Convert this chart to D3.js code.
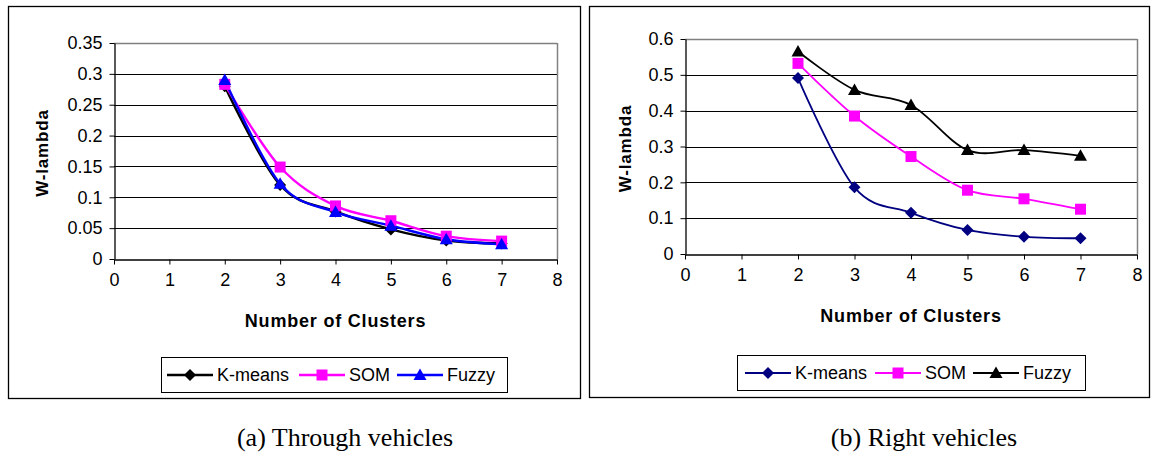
<!DOCTYPE html>
<html>
<head>
<meta charset="utf-8">
<script src="https://cdn.jsdelivr.net/npm/d3@7"></script>
<style>
  body { margin: 0; background: #fff; }
  text { font-family: "Liberation Sans", Arial, sans-serif; }
</style>
</head>
<body>
<div id="chart"></div>
<script>
// chart data
const clusters = [2, 3, 4, 5, 6, 7];
const xTicks = [0, 1, 2, 3, 4, 5, 6, 7, 8];
const seriesNames = ['K-means', 'SOM', 'Fuzzy'];

const throughKmeans = [0.280, 0.120, 0.077, 0.048, 0.030, 0.025];
const throughSom = [0.283, 0.149, 0.086, 0.062, 0.037, 0.029];
const throughFuzzy = [0.290, 0.122, 0.076, 0.054, 0.032, 0.024];
const throughTicks = [0, 0.05, 0.1, 0.15, 0.2, 0.25, 0.3, 0.35];

const rightKmeans = [0.491, 0.186, 0.115, 0.067, 0.048, 0.044];
const rightSom = [0.532, 0.385, 0.272, 0.178, 0.154, 0.125];
const rightFuzzy = [0.565, 0.458, 0.416, 0.290, 0.290, 0.274];
const rightTicks = [0, 0.1, 0.2, 0.3, 0.4, 0.5, 0.6];

const W = 1152, H = 456;
const svg = d3.select('#chart').append('svg')
  .attr('width', W)
  .attr('height', H);

const panels = [
  {
    caption: '(a) Through vehicles', captionX: 345,
    box: [8.5, 6.5, 572, 392],
    plot: {left: 114, right: 557, top: 43, bottom: 259},
    yMax: 0.35, yTicks: throughTicks,
    yTitleX: 42, xTitleY: 327,
    legend: {x: 161, y: 357, w: 346, h: 35, offsets: [6, 138, 236]},
    lineWidth: 2.4,
    series: [
      {values: throughKmeans, color: '#000000', marker: 'diamond'},
      {values: throughSom, color: '#ff00ff', marker: 'square'},
      {values: throughFuzzy, color: '#0000ff', marker: 'triangle'}
    ]
  },
  {
    caption: '(b) Right vehicles', captionX: 924,
    box: [589.5, 6.5, 560, 391],
    plot: {left: 685, right: 1137, top: 39, bottom: 254},
    yMax: 0.6, yTicks: rightTicks,
    yTitleX: 625, xTitleY: 322,
    legend: {x: 737, y: 355, w: 348, h: 35, offsets: [8, 138, 236]},
    lineWidth: 1.8,
    series: [
      {values: rightKmeans, color: '#000080', marker: 'diamond'},
      {values: rightSom, color: '#ff00ff', marker: 'square'},
      {values: rightFuzzy, color: '#000000', marker: 'triangle'}
    ]
  }
];

const markerPath = {
  diamond: 'M0,-6L6,0L0,6L-6,0Z',
  square: 'M-5.5,-5.5H5.5V5.5H-5.5Z',
  triangle: 'M0,-6.5L6.5,5H-6.5Z'
};

const fmt = d => String(+d.toFixed(2));

panels.forEach(p => {
  const g = svg.append('g');

  g.append('rect')
    .attr('x', p.box[0]).attr('y', p.box[1])
    .attr('width', p.box[2]).attr('height', p.box[3])
    .attr('fill', '#fff')
    .attr('stroke', '#000')
    .attr('stroke-width', 1.3);

  const x = d3.scaleLinear().domain([0, 8]).range([p.plot.left, p.plot.right]);
  const y = d3.scaleLinear().domain([0, p.yMax]).range([p.plot.bottom, p.plot.top]);

  // grid lines
  g.append('g')
    .selectAll('line')
    .data(p.yTicks.slice(1))
    .enter().append('line')
    .attr('x1', p.plot.left).attr('x2', p.plot.right)
    .attr('y1', d => Math.round(y(d)) + 0.5).attr('y2', d => Math.round(y(d)) + 0.5)
    .attr('stroke', '#000');

  // plot border right and top
  g.append('line')
    .attr('x1', p.plot.right + 0.5).attr('x2', p.plot.right + 0.5)
    .attr('y1', p.plot.top).attr('y2', p.plot.bottom)
    .attr('stroke', '#808080').attr('stroke-width', 1.5);
  g.append('line')
    .attr('x1', p.plot.left).attr('x2', p.plot.right)
    .attr('y1', Math.round(y(p.yMax)) + 0.5).attr('y2', Math.round(y(p.yMax)) + 0.5)
    .attr('stroke', '#808080').attr('stroke-width', 1.5);

  const yAxis = g.append('g')
    .attr('transform', `translate(${p.plot.left + 0.5},0)`)
    .call(d3.axisLeft(y).tickValues(p.yTicks).tickFormat(fmt).tickSize(5).tickPadding(7).tickSizeOuter(0));
  const xAxis = g.append('g')
    .attr('transform', `translate(0,${Math.round(p.plot.bottom) + 0.5})`)
    .call(d3.axisBottom(x).tickValues(xTicks).tickFormat(d3.format('d')).tickSize(5).tickPadding(9).tickSizeOuter(0));

  [yAxis, xAxis].forEach(a => {
    a.selectAll('.domain').attr('stroke', '#000').attr('stroke-width', 1.3);
    a.selectAll('.tick line').attr('stroke', '#000');
    a.selectAll('text')
      .attr('fill', '#000')
      .style('font-family', '"Liberation Sans", Arial, sans-serif')
      .style('font-size', '18px');
  });

  // axis titles
  g.append('text')
    .attr('x', (p.plot.left + p.plot.right) / 2)
    .attr('y', p.xTitleY)
    .attr('text-anchor', 'middle')
    .style('font-size', '18px')
    .style('font-weight', 'bold')
    .style('letter-spacing', '0.8px')
    .text('Number of Clusters');

  g.append('text')
    .attr('transform', `translate(${p.yTitleX},${(p.plot.top + p.plot.bottom) / 2 + 2}) rotate(-90)`)
    .attr('text-anchor', 'middle')
    .attr('dy', '0.35em')
    .style('font-size', '17px')
    .style('font-weight', 'bold')
    .style('letter-spacing', '0.8px')
    .text('W-lambda');

  // series
  const line = d3.line()
    .x((d, i) => x(clusters[i]))
    .y(d => y(d))
    .curve(d3.curveCatmullRom.alpha(0));

  p.series.forEach(s => {
    g.append('path')
      .datum(s.values)
      .attr('d', line)
      .attr('fill', 'none')
      .attr('stroke', s.color)
      .attr('stroke-width', p.lineWidth);
  });
  p.series.forEach(s => {
    g.append('g')
      .selectAll('path')
      .data(s.values)
      .enter().append('path')
      .attr('transform', (d, i) => `translate(${x(clusters[i])},${y(d)})`)
      .attr('d', markerPath[s.marker])
      .attr('fill', s.color);
  });

  // legend
  const lg = g.append('g').attr('transform', `translate(${p.legend.x},${p.legend.y})`);
  lg.append('rect')
    .attr('x', 0.5).attr('y', 0.5)
    .attr('width', p.legend.w).attr('height', p.legend.h)
    .attr('fill', '#fff').attr('stroke', '#000');
  p.series.forEach((s, i) => {
    const ox = p.legend.offsets[i];
    const cy = p.legend.h / 2 + 0.5;
    lg.append('line')
      .attr('x1', ox).attr('x2', ox + 46)
      .attr('y1', cy).attr('y2', cy)
      .attr('stroke', s.color).attr('stroke-width', p.lineWidth);
    lg.append('path')
      .attr('transform', `translate(${ox + 23},${cy})`)
      .attr('d', markerPath[s.marker])
      .attr('fill', s.color);
    lg.append('text')
      .attr('x', ox + 50).attr('y', cy)
      .attr('dy', '0.35em')
      .style('font-size', '18px')
      .text(seriesNames[i]);
  });

  // caption
  svg.append('text')
    .attr('x', p.captionX)
    .attr('y', 446)
    .attr('text-anchor', 'middle')
    .style('font-family', '"Liberation Serif", "Times New Roman", serif')
    .style('font-size', '26px')
    .text(p.caption);
});
</script>
</body>
</html>
